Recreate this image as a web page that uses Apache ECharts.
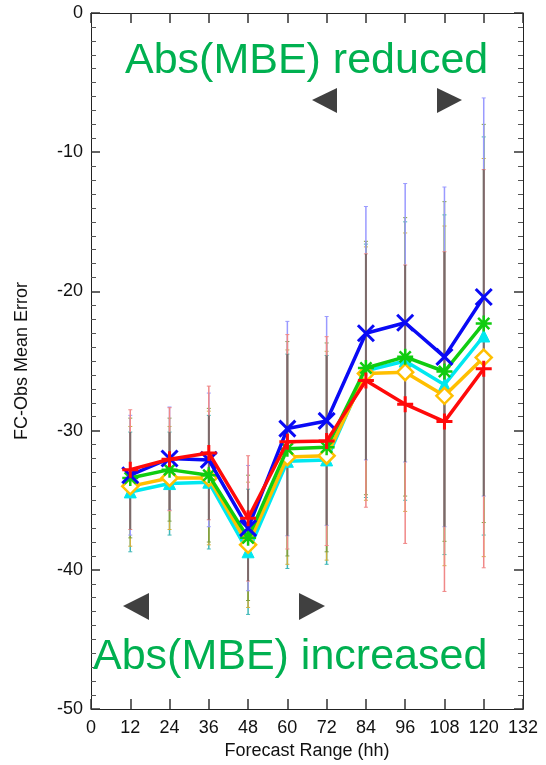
<!DOCTYPE html>
<html>
<head>
<meta charset="utf-8">
<script src="https://cdn.jsdelivr.net/npm/echarts@6/dist/echarts.min.js"></script>
<style>
html,body{margin:0;padding:0;background:#fff;}
#chart{width:546px;height:765px;}
</style>
</head>
<body>
<div id="chart"></div>
<script>
// ---- data ----
const forecastHours = [12, 24, 36, 48, 60, 72, 84, 96, 108, 120];
const blueMean   = [-33.2, -32.0, -32.1, -37.0, -29.85, -29.3, -23.0, -22.25, -24.7, -20.4];
const redMean    = [-32.8, -32.05, -31.6, -36.3, -30.8, -30.75, -26.4, -28.1, -29.35, -25.55];
const greenMean  = [-33.4, -32.8, -33.2, -37.7, -31.3, -31.2, -25.5, -24.7, -25.75, -22.3];
const orangeMean = [-34.0, -33.4, -33.4, -38.2, -31.9, -31.8, -25.9, -25.8, -27.5, -24.75];
const cyanMean   = [-34.4, -33.8, -33.7, -38.7, -32.2, -32.1, -25.7, -25.0, -26.7, -23.2];
const spread     = [4.3, 3.7, 4.8, 4.5, 7.7, 7.5, 9.1, 10.0, 12.2, 14.3];
const xTicks = [0, 12, 24, 36, 48, 60, 72, 84, 96, 108, 120, 132];
const yTicks = [-50, -40, -30, -20, -10, 0];
const yTitle = 'FC-Obs Mean Error';
const xTitle = 'Forecast Range (hh)';
const noteTop = 'Abs(MBE) reduced';
const noteBottom = 'Abs(MBE) increased';

const seriesDefs = [
  {name: 'cyan',   mean: cyanMean,   color: '#00e8f0', tip: '#40b8b8', symbol: 'triangle', size: 12, fill: '#00e8f0', bw: 1},
  {name: 'orange', mean: orangeMean, color: '#ffbf00', tip: '#d0b040', symbol: 'diamond',  size: 16, fill: '#ffffff', bw: 2.5},
  {name: 'green',  mean: greenMean,  color: '#10cc10', tip: '#80a040', symbol: 'path://M0.5,0L0.5,1M0,0.5L1,0.5M0.15,0.15L0.85,0.85M0.85,0.15L0.15,0.85', size: 16, fill: '#10cc10', bw: 2.5},
  {name: 'blue',   mean: blueMean,   color: '#0a0af5', tip: '#9a9aff', symbol: 'path://M0,0L1,1M1,0L0,1', size: 16, fill: '#0a0af5', bw: 3},
  {name: 'red',    mean: redMean,    color: '#ff0a0a', tip: '#f08888', symbol: 'path://M0.5,0L0.5,1M0,0.5L1,0.5', size: 16, fill: '#ff0a0a', bw: 3}
];

const chart = echarts.init(document.getElementById('chart'), null, {renderer: 'canvas'});

function errRender(color, width, cap) {
  return function (params, api) {
    const x = api.value(0), lo = api.value(1), hi = api.value(2);
    const p1 = api.coord([x, lo]), p2 = api.coord([x, hi]);
    const kids = [{type: 'line', shape: {x1: p1[0], y1: p1[1], x2: p2[0], y2: p2[1]}, style: {stroke: color, lineWidth: width}}];
    if (cap) {
      kids.push({type: 'line', shape: {x1: p1[0] - cap, y1: p1[1], x2: p1[0] + cap, y2: p1[1]}, style: {stroke: color, lineWidth: 1}});
      kids.push({type: 'line', shape: {x1: p2[0] - cap, y1: p2[1], x2: p2[0] + cap, y2: p2[1]}, style: {stroke: color, lineWidth: 1}});
    }
    return {type: 'group', children: kids};
  };
}

const series = [];
seriesDefs.forEach(function (d) {
  series.push({
    type: 'custom', name: d.name + '-err', silent: true, z: 1,
    renderItem: errRender(d.tip, 1.5, 2),
    data: forecastHours.map(function (h, i) { return [h, d.mean[i] - spread[i], d.mean[i] + spread[i]]; })
  });
});
series.push({
  type: 'custom', name: 'core', silent: true, z: 2,
  renderItem: errRender('#7a6a6a', 2, 0),
  data: forecastHours.map(function (h, i) {
    let lo = -Infinity, hi = Infinity;
    seriesDefs.forEach(function (d) {
      lo = Math.max(lo, d.mean[i] - spread[i]);
      hi = Math.min(hi, d.mean[i] + spread[i]);
    });
    return [h, lo, hi];
  })
});
seriesDefs.forEach(function (d, k) {
  series.push({
    type: 'line', name: d.name, z: 5 + k,
    data: forecastHours.map(function (h, i) { return [h, d.mean[i]]; }),
    symbol: d.symbol, symbolSize: d.size, showSymbol: true,
    lineStyle: {color: d.color, width: 3.5},
    itemStyle: {color: d.fill, borderColor: d.color, borderWidth: d.bw},
    animation: false
  });
});

const font = 'Liberation Sans, Arial, sans-serif';
function axisLine() { return {show: true, onZero: false, lineStyle: {color: '#222', width: 1}}; }
function xTick() { return {show: true, inside: true, length: 10, lineStyle: {color: '#333', width: 1.5}}; }
function yTick() { return {show: true, inside: true, length: 9, lineStyle: {color: '#333', width: 1.5}}; }
function yMinor() { return {show: true, splitNumber: 10, length: 5, lineStyle: {color: '#555', width: 1}}; }

const option = {
  animation: false,
  backgroundColor: '#ffffff',
  grid: {left: 91, right: 23, top: 13, bottom: 54},
  xAxis: [
    {
      type: 'value', gridIndex: 0, min: xTicks[0], max: xTicks[xTicks.length - 1], interval: 12, position: 'bottom',
      axisLine: axisLine(), splitLine: {show: false},
      axisTick: xTick(),
      axisLabel: {show: true, fontSize: 18, color: '#111', margin: 10, fontFamily: font},
      name: xTitle, nameLocation: 'middle', nameGap: 29,
      nameTextStyle: {fontSize: 18, color: '#111', fontFamily: font}
    },
    {
      type: 'value', gridIndex: 0, min: xTicks[0], max: xTicks[xTicks.length - 1], interval: 12, position: 'top',
      axisLine: axisLine(), splitLine: {show: false},
      axisTick: xTick(),
      axisLabel: {show: false}
    }
  ],
  yAxis: [
    {
      type: 'value', gridIndex: 0, min: yTicks[0], max: yTicks[yTicks.length - 1], interval: 10, position: 'left',
      axisLine: axisLine(), splitLine: {show: false},
      axisTick: yTick(), minorTick: yMinor(),
      axisLabel: {show: true, fontSize: 18, color: '#111', margin: 8, fontFamily: font},
      name: yTitle, nameLocation: 'middle', nameGap: 60, nameRotate: 90,
      nameTextStyle: {fontSize: 18, color: '#111', fontFamily: font}
    },
    {
      type: 'value', gridIndex: 0, min: yTicks[0], max: yTicks[yTicks.length - 1], interval: 10, position: 'right',
      axisLine: axisLine(), splitLine: {show: false},
      axisTick: yTick(), minorTick: yMinor(),
      axisLabel: {show: false}
    }
  ],
  series: series,
  graphic: [
    {type: 'text', left: 125, top: 40, z: 20, style: {text: noteTop, fill: '#00b050', font: '43px "Liberation Sans", Arial, sans-serif'}},
    {type: 'text', left: 93, top: 636, z: 20, style: {text: noteBottom, fill: '#00b050', font: '43px "Liberation Sans", Arial, sans-serif'}},
    {type: 'polygon', z: 20, shape: {points: [[312, 100], [337, 88], [337, 113]]}, style: {fill: '#404040'}},
    {type: 'polygon', z: 20, shape: {points: [[462, 100], [437, 88], [437, 113]]}, style: {fill: '#404040'}},
    {type: 'polygon', z: 20, shape: {points: [[123, 606], [149, 593], [149, 620]]}, style: {fill: '#404040'}},
    {type: 'polygon', z: 20, shape: {points: [[325, 606], [299, 593], [299, 620]]}, style: {fill: '#404040'}}
  ]
};
chart.setOption(option);
</script>
</body>
</html>
